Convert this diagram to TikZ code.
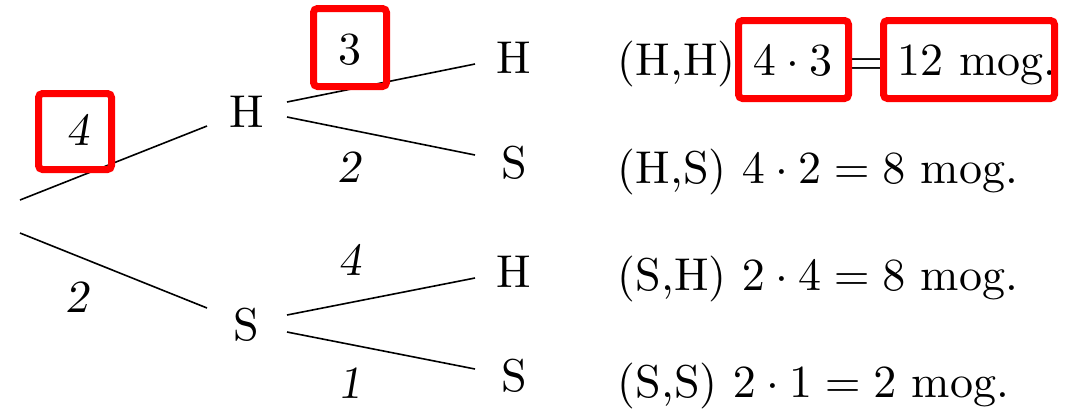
\documentclass[tikz,border=0pt]{standalone}
\begin{document}
\begin{tikzpicture}[x=0.5pt,y=-0.5pt,
  txt/.style={inner sep=0pt,font=\fontsize{10}{12}\selectfont,scale=2.3,transform shape},
  lbl/.style={txt,anchor=center},
  branch/.style={line width=0.8pt,black},
  hilite/.style={draw=red,line width=3.5pt,rounded corners=2pt}]
\useasboundingbox (0,0) rectangle (1074,409);
% tree nodes
\node[txt,anchor=base] (H1) at (247,127) {H};
\node[txt,anchor=base] (S1) at (246,340) {S};
\node[txt,anchor=base] (HH) at (514,73) {H};
\node[txt,anchor=base] (HS) at (514,178) {S};
\node[txt,anchor=base] (SH) at (514,287) {H};
\node[txt,anchor=base] (SS) at (514,391) {S};
% branch end points
\coordinate (r1) at (20,200);
\coordinate (r2) at (20,233);
\coordinate (h1in) at (207,126);
\coordinate (s1in) at (207,308);
\coordinate (h1a) at (287,102);
\coordinate (h1b) at (287,117);
\coordinate (s1a) at (287,315);
\coordinate (s1b) at (287,332);
\coordinate (hhin) at (475,64);
\coordinate (hsin) at (475,155);
\coordinate (shin) at (475,278);
\coordinate (ssin) at (475,369);
\draw[branch] (r1) -- (h1in);
\draw[branch] (r2) -- (s1in);
\draw[branch] (h1a) -- (hhin);
\draw[branch] (h1b) -- (hsin);
\draw[branch] (s1a) -- (shin);
\draw[branch] (s1b) -- (ssin);
% edge labels
\node[lbl] (l4) at (78,130) {\textsl{4}};
\node[lbl] (l2) at (78,297) {\textsl{2}};
\node[lbl] (l3) at (350,50) {3};
\node[lbl] (l2b) at (350,167) {\textsl{2}};
\node[lbl] (l4b) at (350,260) {\textsl{4}};
\node[lbl] (l1) at (350,383) {\textsl{1}};
% results
\node[txt,anchor=base west] (p1) at (617,75) {(H,H)};
\node[txt,anchor=base west] (p1a) at (752,75) {$4\cdot 3$};
\node[txt,anchor=base] (p1b) at (866,75) {$=$};
\node[txt,anchor=base west] (p1c) at (897,75) {12 mog.};
\node[txt,anchor=base west] (p2) at (617,183) {(H,S) $4\cdot 2 = 8$ mog.};
\node[txt,anchor=base west] (p3) at (617,290) {(S,H) $2\cdot 4 = 8$ mog.};
\node[txt,anchor=base west] (p4) at (617,397) {(S,S) $2\cdot 1 = 2$ mog.};
% red highlight boxes
\draw[hilite] (38.5,93.5) rectangle (111.5,169.5);
\draw[hilite] (313.5,8.5) rectangle (386.5,86.5);
\draw[hilite] (738.5,20.5) rectangle (848.5,98.5);
\draw[hilite] (883.5,20.5) rectangle (1054.5,98.5);
\end{tikzpicture}
\end{document}
